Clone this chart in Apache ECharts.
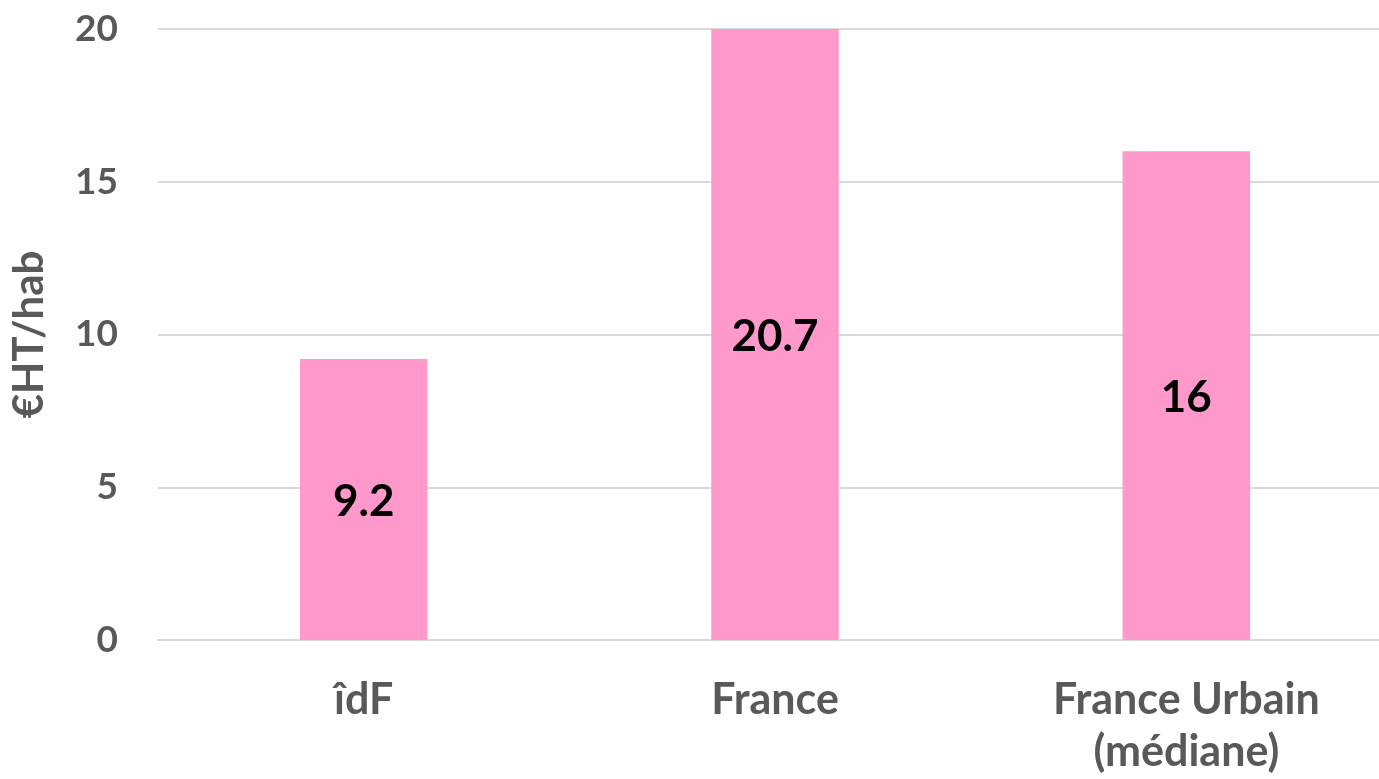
<!DOCTYPE html>
<html>
<head>
<meta charset="utf-8">
<script src="https://cdn.jsdelivr.net/npm/echarts@6/dist/echarts.min.js"></script>
<style>
  html, body { margin: 0; padding: 0; background: #fff; }
  #main { width: 1379px; height: 779px; }
</style>
</head>
<body>
<div id="main"></div>
<script>
// données
var categories = ['îdF', 'France', 'France Urbain\n(médiane)'];
var values = [9.2, 20.7, 16];
var yTicks = [0, 5, 10, 15, 20];

var myChart = echarts.init(document.getElementById('main'));

var option = {
  backgroundColor: '#ffffff',
  animation: false,
  textStyle: { fontFamily: 'Lato, "Open Sans", sans-serif' },
  grid: { left: 158, top: 29, bottom: 139, width: 1234, outerBoundsMode: 'none', containLabel: false },
  xAxis: {
    type: 'category',
    data: categories,
    axisLine: { lineStyle: { color: '#d9d9d9', width: 2 } },
    axisTick: { show: false },
    axisLabel: {
      color: '#595959', fontSize: 43, fontWeight: 'bold',
      lineHeight: 52, margin: 34
    }
  },
  yAxis: {
    type: 'value',
    min: yTicks[0],
    max: yTicks[yTicks.length - 1],
    interval: 5,
    name: '€HT/hab',
    nameLocation: 'middle',
    nameGap: 108,
    nameTextStyle: { color: '#595959', fontSize: 42, fontWeight: 'bold' },
    axisLine: { show: false },
    axisTick: { show: false },
    axisLabel: { color: '#595959', fontSize: 37, fontWeight: 'bold', margin: 40 },
    splitLine: { lineStyle: { color: '#d9d9d9', width: 2 } }
  },
  series: [{
    type: 'bar',
    data: values,
    barWidth: '31%',
    itemStyle: { color: '#ff99cc' },
    label: {
      show: true,
      position: 'inside',
      offset: [0, 2],
      color: '#000000',
      fontSize: 44,
      fontWeight: 'bold'
    }
  }]
};

myChart.setOption(option);
</script>
</body>
</html>
